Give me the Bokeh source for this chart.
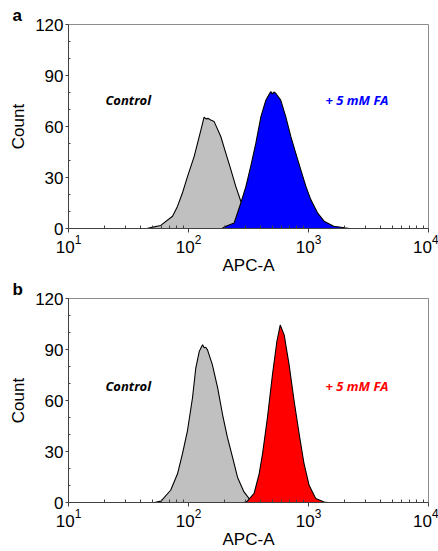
from bokeh.plotting import figure
from bokeh.layouts import column
from bokeh.models import Range1d, FixedTicker
from bokeh.embed import file_html
from bokeh.resources import INLINE

# ---- data ----
x_ticks = [10, 100, 1000, 10000]
y_ticks = [0, 30, 60, 90, 120]

ctrl_a_x = [45, 48.5, 58.7, 73.6, 80.9, 89.1, 98.2, 111.4, 126.8, 134.9, 140, 146, 153.1,
            163.3, 185.8, 204.6, 225.4, 247.7, 272.9, 300.6, 343.6, 398]
ctrl_a_y = [0, 0.5, 1.8, 7.2, 13, 21, 30.7, 42.3, 57.9, 65.5, 64.5, 64.8, 63.8,
            63, 54.1, 44.3, 34.6, 24.8, 16, 9, 3, 0]

fa_a_x = [190, 205, 240, 273, 301, 330, 364, 401, 441, 470, 485, 500, 515, 535, 587, 647,
          713, 783, 863, 951, 1045, 1189, 1349, 1622, 1995, 2200]
fa_a_y = [0, 1.3, 3.3, 15, 24.8, 36.5, 50.2, 65.7, 75.5, 79, 80.5, 79.2, 80.3, 79.4, 75.5, 65.7,
          54, 44.3, 34.5, 24.8, 17, 9.2, 4.3, 1.3, 0.4, 0]

ctrl_b_x = [52, 59, 71, 81, 89, 98, 108, 115, 123, 128, 131, 135, 139, 144, 158, 175, 192,
            211, 233, 256, 290, 320, 352, 370]
ctrl_b_y = [0, 0.8, 7.2, 16.9, 28.6, 42.2, 61.6, 79.1, 88.9, 91.5, 92.8, 91, 91.3, 89.8, 81.1,
            67.4, 51.9, 38.3, 26.6, 14.9, 6.2, 2.3, 0.8, 0]

fa_b_x = [290, 309, 352, 388, 414, 455, 501, 545, 581, 627, 689, 759, 836, 918, 1012, 1148,
          1349, 1450]
fa_b_y = [0, 0.8, 5.3, 16.9, 28.6, 50, 75.3, 94.7, 104.4, 98.6, 81.1, 59.7, 40.3, 22.8, 10.1,
          2.3, 0.3, 0]

panels = [
    dict(letter="a", cx=ctrl_a_x, cy=ctrl_a_y, fx=fa_a_x, fy=fa_a_y, color="#0000ff",
         height=277, top=24, bottom=48, ctrl_y=75.5, fa_y=75.5),
    dict(letter="b", cx=ctrl_b_x, cy=ctrl_b_y, fx=fa_b_x, fy=fa_b_y, color="#ff0000",
         height=274, top=20, bottom=48, ctrl_y=68.8, fa_y=68.8),
]

FONT = "Liberation Sans"
minor_x = [m * 10 ** k for k in (1, 2, 3) for m in range(2, 10)]
minor_y = [v for v in range(0, 121, 10) if v not in y_ticks]


def make_panel(d):
    p = figure(width=438, height=d["height"], x_axis_type="log",
               x_range=Range1d(10, 10000), y_range=Range1d(0, 120),
               output_backend="svg", toolbar_location=None,
               min_border_left=68, min_border_right=10,
               min_border_top=d["top"], min_border_bottom=d["bottom"],
               title=d["letter"])
    p.grid.visible = False
    p.outline_line_color = "#8c8c8c"
    p.background_fill_color = "white"

    p.title.align = "left"
    p.title.offset = -56
    p.title.standoff = 0
    p.title.text_font = FONT
    p.title.text_font_size = "17px"
    p.title.text_font_style = "bold"
    p.title.text_color = "black"

    # histograms
    p.varea(x=d["cx"], y1=[0] * len(d["cx"]), y2=d["cy"], fill_color="#c0c0c0")
    p.line(d["cx"], d["cy"], line_color="black", line_width=1.1)
    p.varea(x=d["fx"], y1=[0] * len(d["fx"]), y2=d["fy"], fill_color=d["color"])
    p.line(d["fx"], d["fy"], line_color="black", line_width=1.1)

    # axes
    xa = p.xaxis[0]
    xa.ticker = FixedTicker(ticks=x_ticks, minor_ticks=minor_x)
    xa.axis_line_color = "#404040"
    xa.major_tick_line_color = "#404040"
    xa.minor_tick_line_color = "#404040"
    xa.major_tick_out = 4
    xa.major_tick_in = 0
    xa.minor_tick_in = 3
    xa.minor_tick_out = 0
    xa.major_label_standoff = 2
    xa.major_label_text_font = FONT
    xa.major_label_text_font_size = "17px"
    xa.major_label_text_color = "black"
    xa.axis_label = "APC-A"
    xa.axis_label_standoff = 0
    xa.axis_label_text_font = FONT
    xa.axis_label_text_font_size = "17px"
    xa.axis_label_text_font_style = "normal"
    xa.axis_label_text_color = "black"

    ya = p.yaxis[0]
    ya.ticker = FixedTicker(ticks=y_ticks, minor_ticks=minor_y)
    ya.axis_line_color = "#404040"
    ya.major_tick_line_color = "#404040"
    ya.minor_tick_line_color = "#404040"
    ya.major_tick_out = 3
    ya.major_tick_in = 0
    ya.minor_tick_in = 2
    ya.minor_tick_out = 0
    ya.major_label_standoff = 2
    ya.major_label_text_font = FONT
    ya.major_label_text_font_size = "17px"
    ya.major_label_text_color = "black"
    ya.axis_label = "Count"
    ya.axis_label_standoff = 4
    ya.axis_label_text_font = FONT
    ya.axis_label_text_font_size = "17px"
    ya.axis_label_text_font_style = "normal"
    ya.axis_label_text_color = "black"

    # annotations inside the frame
    p.text(x=[20.3], y=[d["ctrl_y"]], text=["Control"], text_align="left",
           text_baseline="middle", text_font={"value": "Open Sans"},
           text_font_style="bold italic", text_font_size="13px", text_color="black")
    p.text(x=[1386], y=[d["fa_y"]], text=["+ 5 mM FA"], text_align="left",
           text_baseline="middle", text_font={"value": "Open Sans"},
           text_font_style="bold italic", text_font_size="13px", text_color=d["color"])
    return p


layout = column(*[make_panel(d) for d in panels])
open("out.html", "w").write(file_html(layout, INLINE))
